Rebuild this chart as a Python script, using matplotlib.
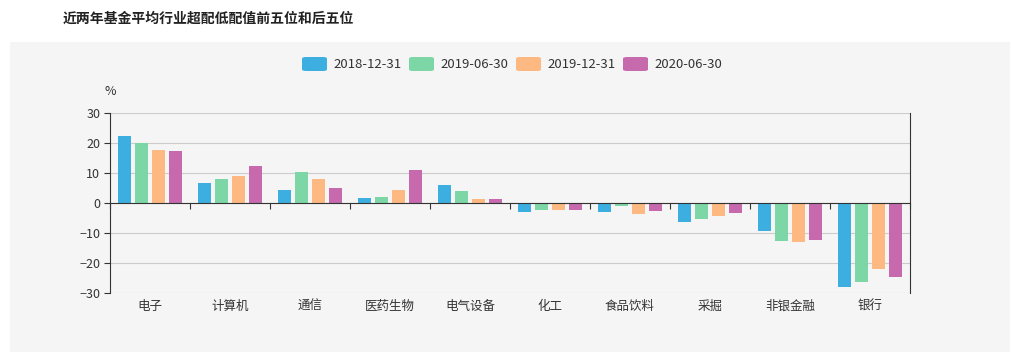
import matplotlib
matplotlib.use("Agg")
import matplotlib.pyplot as plt
from matplotlib.patches import Rectangle, FancyBboxPatch
import numpy as np

plt.rcParams["font.family"] = ["Noto Sans CJK SC", "DejaVu Sans"]

# data
categories = ["电子", "计算机", "通信", "医药生物", "电气设备",
              "化工", "食品饮料", "采掘", "非银金融", "银行"]
series_names = ["2018-12-31", "2019-06-30", "2019-12-31", "2020-06-30"]
v_2018_12 = [22.2, 6.7, 4.4, 1.7, 5.9, -3.1, -3.1, -6.4, -9.2, -28.1]
v_2019_06 = [20.0, 8.1, 10.2, 1.9, 4.1, -2.4, -0.9, -5.2, -12.7, -26.4]
v_2019_12 = [17.8, 8.9, 8.1, 4.4, 1.3, -2.4, -3.6, -4.4, -13.0, -22.1]
v_2020_06 = [17.4, 12.4, 4.9, 11.1, 1.4, -2.2, -2.6, -3.4, -12.3, -24.6]
series_values = [v_2018_12, v_2019_06, v_2019_12, v_2020_06]
colors = ["#3DAEE0", "#7DD6A6", "#FDB981", "#C66AAD"]
y_ticks = [30, 20, 10, 0, -10, -20, -30]

W, H = 1012, 362
fig = plt.figure(figsize=(W / 100, H / 100), dpi=100)
fig.patch.set_facecolor("white")

# gray panel behind the chart
fig.patches.append(Rectangle((10 / W, 10 / H), 1000 / W, 310 / H,
                             transform=fig.transFigure, facecolor="#F5F5F5",
                             edgecolor="none", zorder=-5))

fig.text(63 / W, 1 - 19 / H, "近两年基金平均行业超配低配值前五位和后五位",
         fontsize=10, fontweight="bold", color="#222222", va="center", ha="left")

ax = fig.add_axes([110 / W, 1 - 293 / H, 800 / W, 180 / H])
ax.set_facecolor("none")

x = np.arange(len(categories))
step, width = 0.2125, 0.167
for k, (vals, c) in enumerate(zip(series_values, colors)):
    ax.bar(x + (k - 1.5) * step, vals, width=width, color=c, zorder=3)

ax.set_xlim(-0.5, len(categories) - 0.5)
ax.set_ylim(-30, 30)
ax.set_yticks(y_ticks)
ax.tick_params(axis="y", length=4, color="#333333", labelcolor="#333333",
               labelsize=9, pad=3)
ax.grid(axis="y", color="#CCCCCC", linewidth=0.8, zorder=1)

ax.spines["top"].set_visible(False)
ax.spines["left"].set_color("#333333")
ax.spines["right"].set_color("#333333")
ax.spines["bottom"].set_position(("data", 0))
ax.spines["bottom"].set_color("#333333")
ax.spines["bottom"].set_zorder(4)

ax.set_xticks(np.arange(-0.5, len(categories), 1.0))
ax.set_xticklabels([])
ax.tick_params(axis="x", length=4, color="#333333")

for i, name in enumerate(categories):
    ax.annotate(name, xy=(i, -30), xytext=(0, -5), textcoords="offset points",
                ha="center", va="top", fontsize=9, color="#333333")

ax.text(0.0, 1.122, "%", transform=ax.transAxes, fontsize=9,
        color="#333333", ha="center", va="center")

# legend with rounded swatches
lx = 302
for name, c in zip(series_names, colors):
    fig.patches.append(FancyBboxPatch((lx / W, (H - 71) / H), 25 / W, 14 / H,
                                      boxstyle="round,pad=0,rounding_size=0.004",
                                      transform=fig.transFigure, facecolor=c,
                                      edgecolor="none", zorder=2))
    fig.text((lx + 31) / W, 1 - 64 / H, name, fontsize=9.5, color="#333333",
             va="center", ha="left")
    lx += 107

fig.savefig("out.png", dpi=100)
